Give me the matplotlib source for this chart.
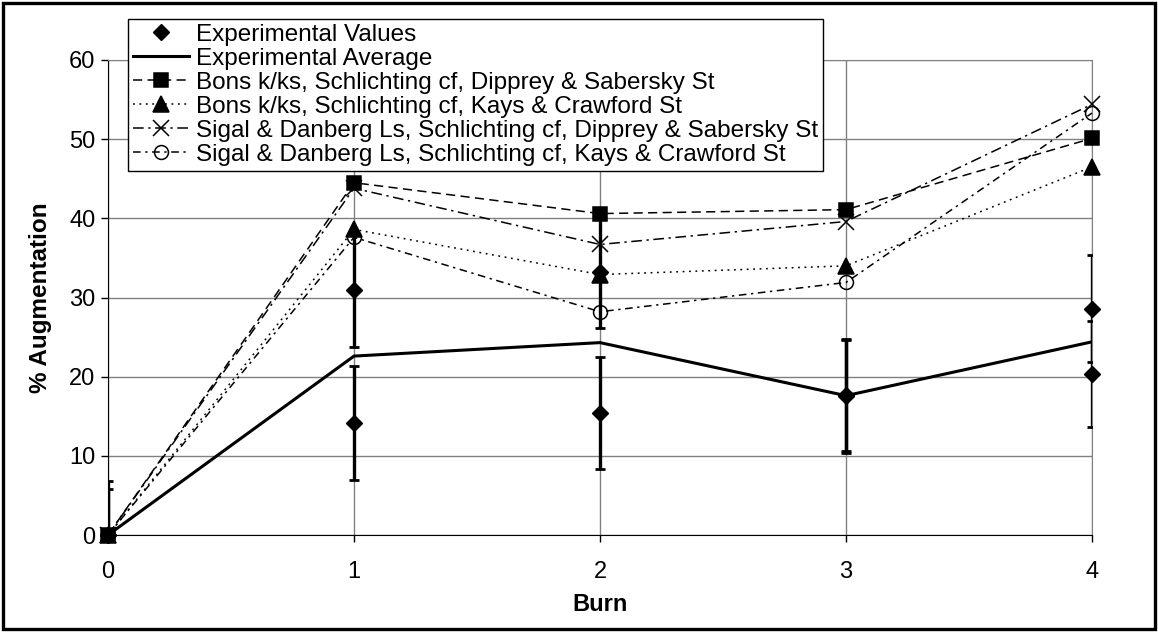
import matplotlib
matplotlib.use('Agg')
import matplotlib.pyplot as plt
from matplotlib.lines import Line2D
from matplotlib.patches import Rectangle

plt.rcParams['font.family'] = ['Liberation Sans', 'DejaVu Sans']

burn = [0, 1, 2, 3, 4]
exp_a = [0, 30.9, 33.2, 17.7, 28.6]
exp_a_err = [6.8, 7.2, 7.1, 7.1, 6.8]
exp_b = [0, 14.2, 15.4, 17.5, 20.3]
exp_b_err = [5.8, 7.2, 7.1, 7.1, 6.7]
exp_avg = [0, 22.6, 24.3, 17.6, 24.4]
bons_ds = [0, 44.5, 40.6, 41.1, 50.1]
bons_kc = [0, 38.6, 32.9, 34.0, 46.5]
sigal_ds = [0, 43.8, 36.7, 39.6, 54.4]
sigal_kc = [0, 37.6, 28.2, 31.9, 53.3]

labels = ['Experimental Values', 'Experimental Average',
          'Bons k/ks, Schlichting cf, Dipprey & Sabersky St',
          'Bons k/ks, Schlichting cf, Kays & Crawford St',
          'Sigal & Danberg Ls, Schlichting cf, Dipprey & Sabersky St',
          'Sigal & Danberg Ls, Schlichting cf, Kays & Crawford St']

fig = plt.figure(figsize=(11.58, 6.32), dpi=100)
ax = fig.add_axes([108/1158, 1-535/632, (1092-108)/1158, (535-60)/632])

fig.patches.append(Rectangle((3/1158, 3/632), 1-6/1158, 1-6/632, transform=fig.transFigure,
                             fill=False, edgecolor='black', linewidth=2.4))

# error bars
for vals, errs in [(exp_a, exp_a_err), (exp_b, exp_b_err)]:
    ax.errorbar(burn, vals, yerr=errs, fmt='none', ecolor='black', elinewidth=2.4,
                capsize=3.8, capthick=2, zorder=3)
ax.plot(burn, exp_avg, color='black', linewidth=2.2, zorder=4)
for vals in [exp_a, exp_b]:
    ax.plot(burn, vals, linestyle='none', marker='D', markersize=8.5, color='black',
            zorder=5, clip_on=False)

styles = [
    (bons_ds, 's', (0, (6, 3.5)), 'black', 10.5),
    (bons_kc, '^', (0, (1.2, 3)), 'black', 11),
    (sigal_ds, 'x', (0, (7, 3, 1.5, 3)), 'black', 11),
    (sigal_kc, 'o', (0, (5, 3, 1.5, 3)), 'none', 10),
]
handles = [Line2D([0], [0], linestyle='none', marker='D', markersize=8.5, color='black'),
           Line2D([0], [0], color='black', linewidth=2.2)]
for vals, mk, ls, fc, ms in styles:
    ax.plot(burn, vals, color='black', linestyle=ls, linewidth=1.1, marker=mk,
            markersize=ms, markerfacecolor=fc, markeredgecolor='black',
            markeredgewidth=1.1, zorder=6, clip_on=False)
    handles.append(Line2D([0], [0], color='black', linestyle=ls, linewidth=1.1, marker=mk,
                          markersize=ms, markerfacecolor=fc, markeredgecolor='black',
                          markeredgewidth=1.1))

ax.set_xlim(0, 4)
ax.set_ylim(0, 60)
ax.set_xticks(burn)
ax.set_yticks(range(0, 61, 10))
ax.grid(True, color='#808080', linewidth=1)
ax.set_axisbelow(True)
for s in ['top', 'right']:
    ax.spines[s].set_color('#808080')
for s in ['left', 'bottom']:
    ax.spines[s].set_color('black')
ax.tick_params(labelsize=17, length=5, width=1)
ax.tick_params(axis='x', pad=14)
ax.tick_params(axis='y', pad=4)
ax.set_xlabel('Burn', fontsize=17, fontweight='bold', labelpad=7)
ax.set_ylabel('% Augmentation', fontsize=17.5, fontweight='bold', labelpad=12)

leg = fig.legend(handles, labels, loc='upper left', bbox_to_anchor=(128/1158, 1-19/632),
                 fontsize=17.5, frameon=True, fancybox=False, edgecolor='black',
                 framealpha=1, borderpad=0.2, labelspacing=0.08, handlelength=2.3,
                 handletextpad=0.3, borderaxespad=0)
leg.get_frame().set_linewidth(1)

fig.savefig('out.png', dpi=100)
